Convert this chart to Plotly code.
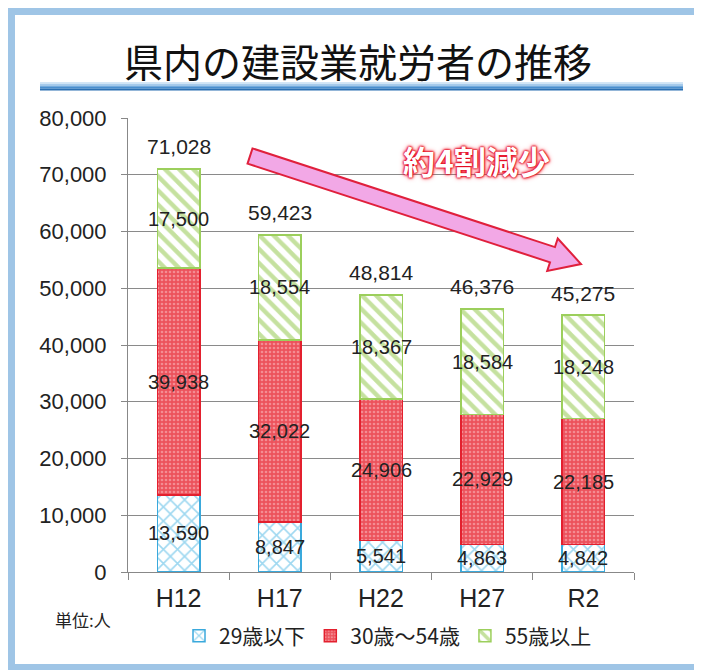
import math
import plotly.graph_objects as go

categories = ["H12", "H17", "H22", "H27", "R2"]
age_29_under = [13590, 8847, 5541, 4863, 4842]
age_30_54 = [39938, 32022, 24906, 22929, 22185]
age_55_over = [17500, 18554, 18367, 18584, 18248]
totals = [71028, 59423, 48814, 46376, 45275]
series_names = ["29歳以下", "30歳～54歳", "55歳以上"]
y_ticks = [0, 10000, 20000, 30000, 40000, 50000, 60000, 70000, 80000]

# page body has an 8px margin: work in screen pixels, shift by OFF
OFF = 8
W, H = 702 - OFF, 670 - OFF
PLOT_L, PLOT_R, PLOT_T, PLOT_B = 128, 634, 118, 572  # screen px
L = PLOT_L - OFF
T = PLOT_T - OFF
R = (W + OFF) - PLOT_R
B = (H + OFF) - PLOT_B
PW, PH = PLOT_R - PLOT_L, PLOT_B - PLOT_T


def px(x):
    return (x - PLOT_L) / PW


def py(y):
    return (PLOT_B - y) / PH


JP = "Noto Sans CJK JP"
LAT = "Liberation Sans, Arial"

fig = go.Figure()
bw = 0.42
fig.add_bar(
    x=categories, y=age_29_under, name=series_names[0], width=bw,
    marker=dict(color="white", line=dict(color="#3aa9dc", width=1.5),
                pattern=dict(shape="x", fgcolor="#3fb2e2", bgcolor="white", size=10, solidity=0.3)),
)
fig.add_bar(
    x=categories, y=age_30_54, name=series_names[1], width=bw,
    marker=dict(color="#ec525c", line=dict(color="#e3202e", width=1.5),
                pattern=dict(shape=".", fgcolor="#fbc6ca", bgcolor="#ec525c", size=4, solidity=0.35)),
)
fig.add_bar(
    x=categories, y=age_55_over, name=series_names[2], width=bw,
    marker=dict(color="white", line=dict(color="#9ccf5c", width=1.5),
                pattern=dict(shape="\\", fgcolor="#8cc440", bgcolor="white", size=10, solidity=0.45)),
)

annotations = []
for i, c in enumerate(categories):
    base = 0
    for vals in (age_29_under, age_30_54, age_55_over):
        v = vals[i]
        annotations.append(dict(x=c, y=base + v / 2, text=f"{v:,}", showarrow=False,
                                xanchor="center", yanchor="middle",
                                font=dict(family=LAT, size=20, color="#222")))
        base += v
    annotations.append(dict(x=c, y=totals[i], text=f"{totals[i]:,}", showarrow=False,
                            xanchor="center", yanchor="middle",
                            yshift=22, font=dict(family=LAT, size=21, color="#222")))


def note(x, y, text, font):
    return dict(xref="paper", yref="paper", x=px(x), y=py(y), text=text, showarrow=False,
                xanchor="center", yanchor="middle", font=font)


annotations.append(note(358, 60, "県内の建設業就労者の推移", dict(family=JP, size=39, color="#111")))
annotations.append(note(83, 619, "単位:人", dict(family=JP, size=17, color="#222")))
annotations.append(note(476, 160, "<b>約4割減少</b>",
                        dict(family=JP, size=32, color="white",
                             shadow="0 0 2px #e0001a, 0 0 2px #e0001a, 0 0 3px #e0001a, 0 0 5px #ff3040")))

shapes = []
frame_col = "#9fc5e6"


def rect(x0, y0, x1, y1, col, layer="above"):
    return dict(type="rect", xref="paper", yref="paper", x0=px(x0), x1=px(x1), y0=py(y1), y1=py(y0),
                fillcolor=col, line=dict(width=0), layer=layer)


shapes.append(rect(7, 8, 15, 670, frame_col))
shapes.append(rect(7, 8, 702, 15, frame_col))
shapes.append(rect(7, 664, 702, 670, frame_col))
shapes.append(dict(type="line", xref="paper", yref="paper", x0=px(695), x1=px(695), y0=py(664), y1=py(15),
                   line=dict(color="#dbe9f5", width=1)))
grad = ["#d3e6f6", "#a6cbec", "#74abdd", "#4a8ecd", "#2a6fb2"]
for k, col in enumerate(grad):
    shapes.append(rect(40, 82 + k * 1.7, 683, 82 + (k + 1) * 1.7, col, layer="below"))

# decorative arrow (screen geometry)
sx, sy = 250, 156
ex, ey = 581, 264
dx, dy = ex - sx, ey - sy
ln = math.hypot(dx, dy)
ux, uy = dx / ln, dy / ln
nx, ny = -uy, ux
hw, hh, hl = 8, 17, 30
bx, by = ex - ux * hl, ey - uy * hl
pts = [
    (sx + nx * hw, sy + ny * hw),
    (bx + nx * hw, by + ny * hw),
    (bx + nx * hh, by + ny * hh),
    (ex, ey),
    (bx - nx * hh, by - ny * hh),
    (bx - nx * hw, by - ny * hw),
    (sx - nx * hw, sy - ny * hw),
]
path = "M " + " L ".join(f"{px(a):.5f},{py(b):.5f}" for a, b in pts) + " Z"
shapes.append(dict(type="path", xref="paper", yref="paper", path=path,
                   fillcolor="#f2a8e6", line=dict(color="#e0203c", width=2), layer="above"))

fig.update_layout(
    width=W, height=H,
    margin=dict(l=L, r=R, t=T, b=B, pad=0),
    paper_bgcolor="white", plot_bgcolor="white",
    barmode="stack",
    showlegend=True,
    legend=dict(orientation="h", x=px(388), xanchor="center", y=py(636), yanchor="middle",
                font=dict(family=JP, size=21, color="#222"), itemwidth=30,
                traceorder="normal", bgcolor="rgba(0,0,0,0)"),
    annotations=annotations,
    shapes=shapes,
    xaxis=dict(showgrid=False, showline=True, linecolor="#888", linewidth=1,
               ticks="outside", tickson="boundaries", ticklen=7, tickcolor="#888",
               ticklabelstandoff=4,
               tickfont=dict(family=LAT, size=25, color="#222"), range=[-0.5, 4.5]),
    yaxis=dict(range=[0, 80000], tickvals=y_ticks, tickformat=",",
               showgrid=True, gridcolor="#8a8a8a", gridwidth=1,
               showline=True, linecolor="#888", linewidth=1,
               ticks="outside", ticklen=6, tickcolor="#888",
               ticklabelstandoff=10,
               tickfont=dict(family=LAT, size=22, color="#222"), zeroline=False),
)

fig.write_html("out.html")
